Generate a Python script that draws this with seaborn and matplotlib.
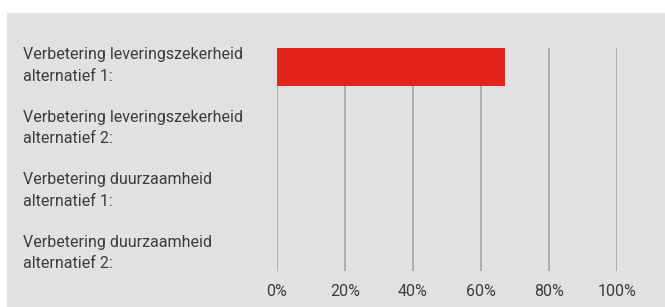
import matplotlib
matplotlib.use("Agg")
import matplotlib.pyplot as plt
import matplotlib.patches as mpatches
import matplotlib.transforms as mtransforms
import seaborn as sns
import pandas as pd

# Data
categories = [
    "Verbetering leveringszekerheid\nalternatief 1:",
    "Verbetering leveringszekerheid\nalternatief 2:",
    "Verbetering duurzaamheid\nalternatief 1:",
    "Verbetering duurzaamheid\nalternatief 2:",
]
values = [67, 0, 0, 0]
x_ticks = [0, 20, 40, 60, 80, 100]
x_tick_labels = ["0%", "20%", "40%", "60%", "80%", "100%"]

df = pd.DataFrame({"category": categories, "value": values})

bg = "#e1e1e1"
red = "#e4241b"
grid = "#a9a9a9"
txt = "#3c3c3c"

sns.set_style("white")
plt.rcParams["font.family"] = ["Roboto", "DejaVu Sans"]

fig = plt.figure(figsize=(6.65, 3.07), dpi=100)
fig.patch.set_facecolor("white")
# grey panel behind the chart
fig.add_artist(mpatches.Rectangle((7 / 665, 0), 1, 1 - 13 / 307,
                                  transform=fig.transFigure,
                                  facecolor=bg, edgecolor="none", zorder=-10))

ax = fig.add_axes([277 / 665, 1 - 271 / 307, 340 / 665, 223 / 307])
ax.set_facecolor("none")

sns.barplot(data=df, x="value", y="category", orient="h", color=red,
            width=0.6, saturation=1, linewidth=0, ax=ax, zorder=3)

ax.set_xlim(0, 100)
ax.set_ylim(-0.3 + 223 / 62.5, -0.3)
ax.set_xticks(x_ticks)
ax.set_xticklabels(x_tick_labels)
for t in x_ticks:
    ax.axvline(t, color=grid, lw=1.3, zorder=1)

for s in ax.spines.values():
    s.set_visible(False)
ax.set_xlabel("")
ax.set_ylabel("")
ax.tick_params(axis="both", length=0, colors=txt, labelsize=11.5)
ax.tick_params(axis="x", pad=9)
ax.tick_params(axis="y", pad=(277 - 23) * 72 / 100)
shift = mtransforms.ScaledTranslation(0, 6 / 100, fig.dpi_scale_trans)
for lab in ax.get_yticklabels():
    lab.set_horizontalalignment("left")
    lab.set_linespacing(1.55)
    lab.set_color(txt)
    lab.set_transform(lab.get_transform() + shift)

fig.savefig("out.png", dpi=100, facecolor=fig.get_facecolor())
